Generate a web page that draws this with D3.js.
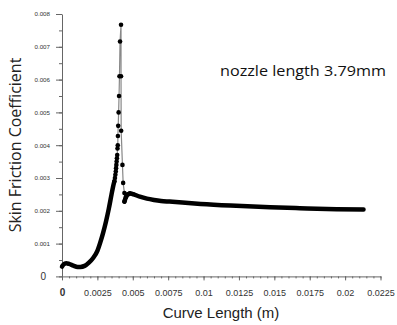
<!DOCTYPE html>
<html>
<head>
<meta charset="utf-8">
<style>
  body { margin: 0; background: #fff; }
  svg { display: block; }
  .tick text { font-family: "Liberation Sans", Arial, sans-serif; fill: #333; }
</style>
</head>
<body>
<svg width="397" height="325"></svg>
<script src="https://d3js.org/d3.v7.min.js"></script>
<script>

// rising part near the wall (dense points, looks like a thick line)
var riseX = [0, 0.0001, 0.0003, 0.0005, 0.0008, 0.0011, 0.0013, 0.0016, 0.0019, 0.0022, 0.0025, 0.0027, 0.0029, 0.0031, 0.0033, 0.0035, 0.0036, 0.0037];
var riseY = [0.0003, 0.00036, 0.0004, 0.00038, 0.00033, 0.00029, 0.00029, 0.00032, 0.00042, 0.00056, 0.00078, 0.00103, 0.00132, 0.00166, 0.00205, 0.0025, 0.00272, 0.0029];

// the spike (sparse points, thin grey line)
var peakX = [0.0037, 0.00374, 0.00377, 0.0038, 0.00382, 0.00384, 0.00386, 0.00388, 0.0039, 0.00392, 0.00394, 0.00395, 0.00397, 0.004, 0.00403, 0.00406, 0.0041, 0.00417, 0.00417, 0.00418, 0.00427, 0.00432, 0.00441];
var peakY = [0.0029, 0.0030, 0.0031, 0.0032, 0.0033, 0.0034, 0.0035, 0.0036, 0.0037, 0.0039, 0.0040, 0.00428, 0.00459, 0.0050, 0.0055, 0.0061, 0.00716, 0.00767, 0.0061, 0.00444, 0.0034, 0.00285, 0.00254, 0.00228];

// downstream tail
var tailX = [0.00441, 0.00452, 0.00465, 0.0048, 0.005, 0.0055, 0.006, 0.0065, 0.007, 0.0076, 0.0085, 0.0098, 0.0119, 0.0147, 0.0168, 0.0194, 0.0213];
var tailY = [0.00228, 0.00242, 0.0025, 0.00253, 0.00251, 0.00243, 0.00237, 0.00233, 0.0023, 0.00228, 0.00225, 0.00221, 0.00216, 0.00211, 0.00208, 0.00205, 0.00204];

var xTicks = [0, 0.0025, 0.005, 0.0075, 0.01, 0.0125, 0.015, 0.0175, 0.02, 0.0225];
var yTicks = [0, 0.001, 0.002, 0.003, 0.004, 0.005, 0.006, 0.007, 0.008];

var svg = d3.select("svg");

var x = d3.scaleLinear().domain([0, 0.0225]).range([62, 380.5]);
var y = d3.scaleLinear().domain([0, 0.008]).range([276.4, 14]);

function pts(xs, ys) { return xs.map(function(d, i) { return [d, ys[i]]; }); }
var rise = pts(riseX, riseY), peak = pts(peakX, peakY), tail = pts(tailX, tailY);

var line = d3.line()
    .x(function(d) { return x(d[0]); })
    .y(function(d) { return y(d[1]); })
    .curve(d3.curveMonotoneX);
var straight = d3.line()
    .x(function(d) { return x(d[0]); })
    .y(function(d) { return y(d[1]); });

// minor ticks
svg.append("g")
    .attr("transform", "translate(0,276.4)")
    .call(d3.axisBottom(x).tickValues(d3.range(0, 46).map(function(i) { return i * 0.0005; })).tickSize(2).tickFormat(""))
    .call(function(g) { g.select(".domain").remove(); g.selectAll("line").attr("stroke", "#666"); });
svg.append("g")
    .attr("transform", "translate(62,0)")
    .call(d3.axisLeft(y).tickValues(d3.range(0, 17).map(function(i) { return i * 0.0005; })).tickSize(3).tickFormat(""))
    .call(function(g) { g.select(".domain").remove(); g.selectAll("line").attr("stroke", "#666"); });

// major axes
var gx = svg.append("g")
    .attr("transform", "translate(0,276.4)")
    .call(d3.axisBottom(x).tickValues(xTicks).tickSize(4).tickSizeOuter(0).tickPadding(9)
      .tickFormat(function(d) { return d === 0 ? "0" : String(+d.toFixed(4)); }));
gx.select(".domain").attr("stroke", "#666");
gx.selectAll("line").attr("stroke", "#666");
gx.selectAll("text").attr("font-size", 9);
gx.selectAll("text").filter(function(d) { return d === 0; }).attr("font-size", 10).attr("font-weight", "bold");

var gy = svg.append("g")
    .attr("transform", "translate(62,0)")
    .call(d3.axisLeft(y).tickValues(yTicks).tickSize(6).tickSizeOuter(0).tickPadding(6)
      .tickFormat(function(d) { return d === 0 ? "0" : d3.format(".3f")(d); }));
gy.select(".domain").attr("stroke", "#666");
gy.selectAll("line").attr("stroke", "#666");
gy.selectAll("text").attr("font-size", 6.2);
gy.selectAll("text").filter(function(d) { return d === 0; }).attr("font-size", 10).attr("dx", -4);

// spike: thin grey line with dots
svg.append("path")
    .attr("d", straight(peak))
    .attr("fill", "none")
    .attr("stroke", "#888")
    .attr("stroke-width", 1.2);

// dense parts drawn thick
[rise, tail].forEach(function(s) {
  svg.append("path")
      .attr("d", line(s))
      .attr("fill", "none")
      .attr("stroke", "#000")
      .attr("stroke-width", 4.5)
      .attr("stroke-linecap", "round");
});

svg.append("g").selectAll("circle")
    .data(peak.concat(tail.slice(0, 5)))
  .enter().append("circle")
    .attr("cx", function(d) { return x(d[0]); })
    .attr("cy", function(d) { return y(d[1]); })
    .attr("r", 2.3)
    .attr("fill", "#000");

// labels
svg.append("text")
    .attr("transform", "translate(21,145) rotate(-90)")
    .attr("text-anchor", "middle")
    .attr("font-family", "'Open Sans', sans-serif")
    .attr("font-size", 16)
    .attr("fill", "#222")
    .text("Skin Friction Coefficient");

svg.append("text")
    .attr("x", 221)
    .attr("y", 318)
    .attr("text-anchor", "middle")
    .attr("font-family", "'Liberation Sans', Arial, sans-serif")
    .attr("font-size", 15)
    .attr("fill", "#222")
    .text("Curve Length (m)");

svg.append("text")
    .attr("x", 220)
    .attr("y", 76)
    .attr("font-family", "'Open Sans', sans-serif")
    .attr("font-size", 15)
    .attr("textLength", 166)
    .attr("lengthAdjust", "spacingAndGlyphs")
    .attr("fill", "#111")
    .text("nozzle length 3.79mm");

</script>
</body>
</html>
